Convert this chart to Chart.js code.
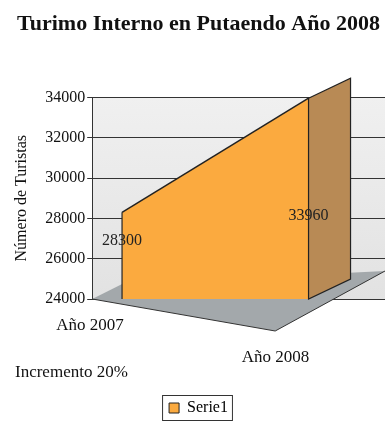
<!DOCTYPE html>
<html>
<head>
<meta charset="utf-8">
<script src="https://cdn.jsdelivr.net/npm/chart.js@4"></script>
<style>
  html, body { margin: 0; padding: 0; background: #fff; }
  #wrap { width: 385px; height: 429px; }
</style>
</head>
<body>
<div id="wrap"><canvas id="chart"></canvas></div>
<script>
const categories = ['Año 2007', 'Año 2008'];
const turistas = [28300, 33960];
const yTicks = [24000, 26000, 28000, 30000, 32000, 34000];
const nota = 'Incremento 20%';

const serif = '"Liberation Serif", "Times New Roman", serif';
const orange = '#fbaa3f';

// wall, floor and the right side face of the area, drawn behind/around the data
const depthPlugin = {
  id: 'depth',
  beforeDraw(chart) {
    const { ctx, chartArea: a } = chart;
    ctx.save();
    const g = ctx.createLinearGradient(0, a.top, 0, a.bottom);
    g.addColorStop(0, '#f0f0f0');
    g.addColorStop(1, '#e2e2e2');
    ctx.fillStyle = g;
    ctx.fillRect(a.left, a.top, a.right - a.left, a.bottom - a.top);
    ctx.restore();
  },
  beforeDatasetsDraw(chart) {
    const { ctx, chartArea: a } = chart;
    ctx.save();
    // floor
    ctx.fillStyle = '#a3a8ab';
    ctx.beginPath();
    ctx.moveTo(a.left, a.bottom);
    ctx.lineTo(a.left + 183, a.bottom + 32);
    ctx.lineTo(a.right, a.bottom - 28);
    ctx.lineTo(a.left + 30, a.bottom - 15);
    ctx.closePath();
    ctx.fill();
    ctx.strokeStyle = '#333';
    ctx.lineWidth = 1;
    ctx.beginPath();
    ctx.moveTo(a.left, a.bottom);
    ctx.lineTo(a.left + 183, a.bottom + 32);
    ctx.lineTo(a.right, a.bottom - 28);
    ctx.stroke();
    ctx.restore();
  },
  afterDatasetsDraw(chart) {
    const { ctx } = chart;
    const pts = chart.getDatasetMeta(0).data;
    const last = pts[pts.length - 1];
    const yBase = chart.scales.y.getPixelForValue(yTicks[0]);
    ctx.save();
    ctx.fillStyle = '#b88a55';
    ctx.strokeStyle = '#222';
    ctx.lineWidth = 1.2;
    ctx.beginPath();
    ctx.moveTo(last.x, last.y);
    ctx.lineTo(last.x + 42, last.y - 20);
    ctx.lineTo(last.x + 42, yBase - 20);
    ctx.lineTo(last.x, yBase);
    ctx.closePath();
    ctx.fill();
    ctx.stroke();
    // left edge of the front face
    ctx.beginPath();
    ctx.moveTo(pts[0].x, pts[0].y);
    ctx.lineTo(pts[0].x, yBase);
    ctx.stroke();

    // value labels
    ctx.fillStyle = '#222';
    ctx.font = '16px ' + serif;
    ctx.textAlign = 'center';
    ctx.textBaseline = 'middle';
    const valOffs = [-58, -83];
    pts.forEach((p, i) => {
      ctx.fillText(String(turistas[i]), p.x, yBase + valOffs[i]);
    });

    // category labels, set down the floor like the original
    const xs = chart.scales.x;
    const offs = [[-32, 27], [-33, 59]];
    ctx.fillStyle = '#111';
    ctx.font = '17px ' + serif;
    categories.forEach((c, i) => {
      ctx.fillText(c, xs.getPixelForValue(i) + offs[i][0], yBase + offs[i][1]);
    });

    ctx.textAlign = 'left';
    ctx.fillText(nota, 15, 373);

    // frame round the legend
    const lg = chart.legend;
    if (lg && lg.legendHitBoxes.length) {
      const hb = lg.legendHitBoxes[0];
      ctx.strokeStyle = '#333';
      ctx.lineWidth = 1;
      ctx.strokeRect(hb.left - 6.5, hb.top - 4.5, hb.width + 11, hb.height + 9);
    }
    ctx.restore();
  }
};

new Chart(document.getElementById('chart'), {
  type: 'line',
  data: {
    datasets: [{
      label: 'Serie1',
      data: turistas.map((v, i) => ({ x: i, y: v })),
      borderColor: '#222',
      borderWidth: 1.5,
      backgroundColor: orange,
      fill: 'start',
      pointRadius: 0,
      tension: 0
    }]
  },
  options: {
    responsive: true,
    maintainAspectRatio: false,
    animation: false,
    layout: { padding: { left: 12, right: 0, top: 4, bottom: 3 } },
    plugins: {
      title: {
        display: true,
        text: 'Turimo Interno en Putaendo Año 2008',
        color: '#111',
        font: { family: serif, size: 22, weight: 'bold' },
        padding: { top: 7, bottom: 60 }
      },
      legend: {
        position: 'bottom',
        labels: {
          color: '#111',
          font: { family: serif, size: 16 },
          boxWidth: 10,
          boxHeight: 10,
          padding: 6,
          generateLabels: () => [{
            text: 'Serie1',
            fillStyle: orange,
            strokeStyle: '#222',
            lineWidth: 1,
            datasetIndex: 0
          }]
        }
      },
      tooltip: { enabled: false }
    },
    scales: {
      x: {
        type: 'linear',
        min: -0.16,
        max: 1.41,
        display: true,
        grid: { display: false },
        border: { display: false },
        ticks: { display: false },
        afterFit: (s) => { s.height = 95; }
      },
      y: {
        min: yTicks[0],
        max: yTicks[yTicks.length - 1],
        afterBuildTicks: (s) => { s.ticks = yTicks.map(v => ({ value: v })); },
        ticks: {
          color: '#111',
          font: { family: serif, size: 16 },
          padding: 2,
          callback: (v) => String(v)
        },
        grid: { color: '#333', lineWidth: 1, tickLength: 5 },
        border: { color: '#333' },
        title: {
          display: true,
          text: 'Número de Turistas',
          color: '#111',
          font: { family: serif, size: 16 },
          padding: { top: 0, bottom: 12 }
        }
      }
    }
  },
  plugins: [depthPlugin]
});
</script>
</body>
</html>
